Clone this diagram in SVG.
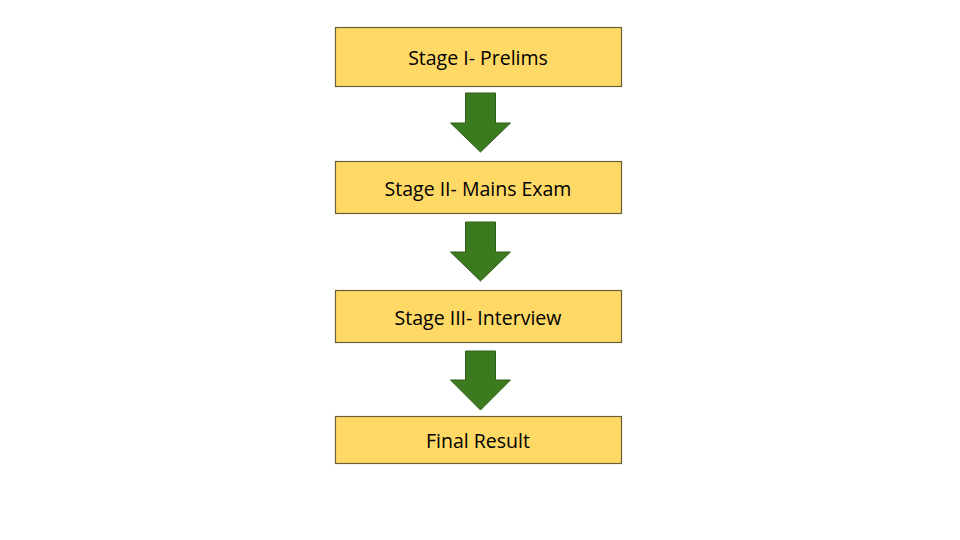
<svg xmlns="http://www.w3.org/2000/svg" width="960" height="540" viewBox="0 0 960 540">
<style>
.box{fill:#FFD966;stroke:#6B5F3A;stroke-width:1.2}
.lbl{font-family:"Open Sans","Liberation Sans",sans-serif;font-size:19.5px;fill:#000;text-anchor:middle;dominant-baseline:central}
.arr{fill:#3B7A1F;stroke:#2E5E18;stroke-width:1}
</style>
<rect width="960" height="540" fill="#fff"/>
<g id="connectors">
<polygon class="arr" points="465.5,93 495.5,93 495.5,123 510.5,123 480.5,152 450.5,123 465.5,123"/>
<polygon class="arr" points="465.5,222 495.5,222 495.5,252 510.5,252 480.5,281 450.5,252 465.5,252"/>
<polygon class="arr" points="465.5,351 495.5,351 495.5,380 510.5,380 480.5,410 450.5,380 465.5,380"/>
</g>
<g id="stage1"><rect class="box" x="335.5" y="27.5" width="286" height="59"/><text class="lbl" x="478" y="57">Stage I- Prelims</text></g>
<g id="stage2"><rect class="box" x="335.5" y="161.5" width="286" height="52"/><text class="lbl" x="478" y="188">Stage II- Mains Exam</text></g>
<g id="stage3"><rect class="box" x="335.5" y="290.5" width="286" height="52"/><text class="lbl" x="478" y="317">Stage III- Interview</text></g>
<g id="final"><rect class="box" x="335.5" y="416.5" width="286" height="47"/><text class="lbl" x="478" y="440">Final Result</text></g>
</svg>
